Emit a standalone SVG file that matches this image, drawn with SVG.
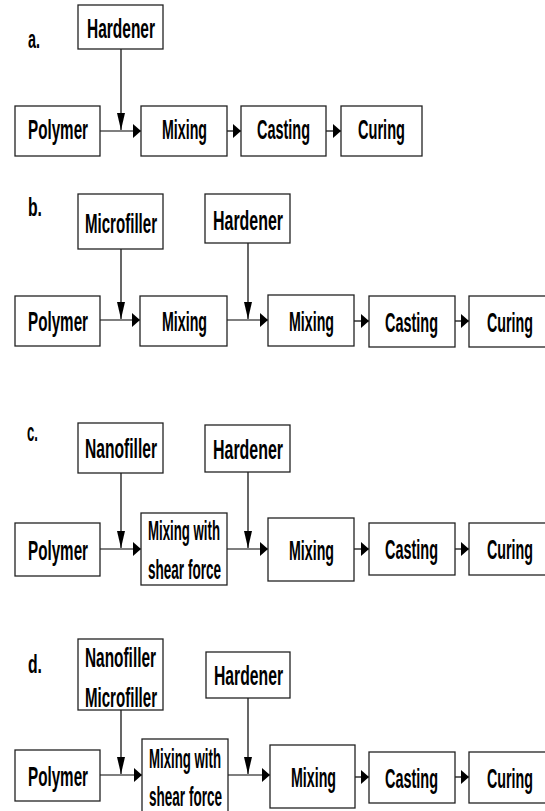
<svg xmlns="http://www.w3.org/2000/svg" width="545" height="811" viewBox="0 0 545 811">
<style>
.box{fill:#fff;stroke:#222;stroke-width:1.3}
.t{font-family:"Liberation Sans",Arial,sans-serif;font-size:28px;font-weight:bold;fill:#000}
.lbl{font-family:"Liberation Sans",Arial,sans-serif;font-size:26px;font-weight:bold;fill:#000}
.ln{fill:none;stroke:#000;stroke-width:1.2}
.h{marker-end:url(#ah)}
.v{marker-end:url(#av)}
</style>
<defs>
<marker id="ah" markerUnits="userSpaceOnUse" markerWidth="8" markerHeight="14" refX="8" refY="7" orient="auto"><path d="M0,0 L8,7 L0,14 z" fill="#000"/></marker>
<marker id="av" markerUnits="userSpaceOnUse" markerWidth="17" markerHeight="8" refX="17" refY="4" orient="auto"><path d="M0,0 L17,4 L0,8 z" fill="#000"/></marker>
</defs>
<rect width="545" height="811" fill="#fff"/>

<g id="labels">
<text class="lbl" x="28" y="48" textLength="12" lengthAdjust="spacingAndGlyphs">a.</text>
<text class="lbl" x="28" y="216" textLength="14" lengthAdjust="spacingAndGlyphs">b.</text>
<text class="lbl" x="27" y="441" textLength="11" lengthAdjust="spacingAndGlyphs">c.</text>
<text class="lbl" x="28" y="673" textLength="14" lengthAdjust="spacingAndGlyphs">d.</text>
</g>

<g id="connectors">
<!-- a -->
<line class="ln v" x1="121" y1="49" x2="121" y2="130"/>
<line class="ln h" x1="100" y1="131" x2="141" y2="131"/>
<line class="ln h" x1="227" y1="131" x2="241" y2="131"/>
<line class="ln h" x1="326" y1="131" x2="341" y2="131"/>
<!-- b -->
<line class="ln v" x1="121" y1="249" x2="121" y2="319"/>
<line class="ln h" x1="100" y1="320" x2="140" y2="320"/>
<line class="ln v" x1="248" y1="243" x2="248" y2="319"/>
<line class="ln h" x1="227" y1="320" x2="268" y2="320"/>
<line class="ln h" x1="354" y1="321" x2="369" y2="321"/>
<line class="ln h" x1="455" y1="321" x2="469" y2="321"/>
<!-- c -->
<line class="ln v" x1="121" y1="473" x2="121" y2="548"/>
<line class="ln h" x1="100" y1="549" x2="141" y2="549"/>
<line class="ln v" x1="248" y1="472" x2="248" y2="548"/>
<line class="ln h" x1="227" y1="549" x2="268" y2="549"/>
<line class="ln h" x1="354" y1="549" x2="369" y2="549"/>
<line class="ln h" x1="455" y1="549" x2="469" y2="549"/>
<!-- d -->
<line class="ln v" x1="121" y1="710" x2="121" y2="774"/>
<line class="ln h" x1="100" y1="775" x2="142" y2="775"/>
<line class="ln v" x1="248" y1="698" x2="248" y2="774"/>
<line class="ln h" x1="228" y1="775" x2="270" y2="775"/>
<line class="ln h" x1="355" y1="777" x2="369" y2="777"/>
<line class="ln h" x1="455" y1="777" x2="469" y2="777"/>
</g>

<!-- a -->
<g id="a-hardener"><rect class="box" x="78" y="5" width="85" height="44"/><text class="t" x="87" y="38" textLength="68" lengthAdjust="spacingAndGlyphs">Hardener</text></g>
<g id="a-polymer"><rect class="box" x="15" y="106" width="85" height="50"/><text class="t" x="28" y="139" textLength="60" lengthAdjust="spacingAndGlyphs">Polymer</text></g>
<g id="a-mixing"><rect class="box" x="141" y="106" width="86" height="50"/><text class="t" x="162" y="139" textLength="45" lengthAdjust="spacingAndGlyphs">Mixing</text></g>
<g id="a-casting"><rect class="box" x="241" y="106" width="85" height="50"/><text class="t" x="257" y="139" textLength="53" lengthAdjust="spacingAndGlyphs">Casting</text></g>
<g id="a-curing"><rect class="box" x="341" y="106" width="81" height="50"/><text class="t" x="358" y="139" textLength="47" lengthAdjust="spacingAndGlyphs">Curing</text></g>

<!-- b -->
<g id="b-microfiller"><rect class="box" x="78" y="194" width="85" height="55"/><text class="t" x="85" y="233" textLength="72" lengthAdjust="spacingAndGlyphs">Microfiller</text></g>
<g id="b-hardener"><rect class="box" x="205" y="194" width="85" height="49"/><text class="t" x="213" y="230" textLength="70" lengthAdjust="spacingAndGlyphs">Hardener</text></g>
<g id="b-polymer"><rect class="box" x="15" y="296" width="85" height="50"/><text class="t" x="28" y="331" textLength="60" lengthAdjust="spacingAndGlyphs">Polymer</text></g>
<g id="b-mixing1"><rect class="box" x="140" y="296" width="87" height="50"/><text class="t" x="162" y="331" textLength="45" lengthAdjust="spacingAndGlyphs">Mixing</text></g>
<g id="b-mixing2"><rect class="box" x="268" y="295" width="86" height="51"/><text class="t" x="289" y="331" textLength="45" lengthAdjust="spacingAndGlyphs">Mixing</text></g>
<g id="b-casting"><rect class="box" x="369" y="296" width="86" height="51"/><text class="t" x="385" y="332" textLength="53" lengthAdjust="spacingAndGlyphs">Casting</text></g>
<g id="b-curing"><rect class="box" x="469" y="296" width="77" height="51"/><text class="t" x="487" y="332" textLength="46" lengthAdjust="spacingAndGlyphs">Curing</text></g>

<!-- c -->
<g id="c-nanofiller"><rect class="box" x="78" y="423" width="85" height="50"/><text class="t" x="85" y="458" textLength="72" lengthAdjust="spacingAndGlyphs">Nanofiller</text></g>
<g id="c-hardener"><rect class="box" x="205" y="425" width="85" height="47"/><text class="t" x="213" y="459" textLength="70" lengthAdjust="spacingAndGlyphs">Hardener</text></g>
<g id="c-polymer"><rect class="box" x="15" y="523" width="85" height="53"/><text class="t" x="28" y="560" textLength="60" lengthAdjust="spacingAndGlyphs">Polymer</text></g>
<g id="c-shear"><rect class="box" x="141" y="513" width="86" height="72"/><text class="t" x="148" y="540" textLength="72" lengthAdjust="spacingAndGlyphs">Mixing with</text><text class="t" x="148" y="579" textLength="73" lengthAdjust="spacingAndGlyphs">shear force</text></g>
<g id="c-mixing"><rect class="box" x="268" y="518" width="86" height="63"/><text class="t" x="289" y="560" textLength="45" lengthAdjust="spacingAndGlyphs">Mixing</text></g>
<g id="c-casting"><rect class="box" x="369" y="523" width="86" height="52"/><text class="t" x="385" y="559" textLength="53" lengthAdjust="spacingAndGlyphs">Casting</text></g>
<g id="c-curing"><rect class="box" x="469" y="523" width="77" height="52"/><text class="t" x="487" y="559" textLength="46" lengthAdjust="spacingAndGlyphs">Curing</text></g>

<!-- d -->
<g id="d-fillers"><rect class="box" x="78" y="639" width="85" height="71"/><text class="t" x="85" y="667" textLength="71" lengthAdjust="spacingAndGlyphs">Nanofiller</text><text class="t" x="85" y="707" textLength="72" lengthAdjust="spacingAndGlyphs">Microfiller</text></g>
<g id="d-hardener"><rect class="box" x="206" y="652" width="84" height="46"/><text class="t" x="214" y="685" textLength="69" lengthAdjust="spacingAndGlyphs">Hardener</text></g>
<g id="d-polymer"><rect class="box" x="15" y="750" width="85" height="51"/><text class="t" x="28" y="786" textLength="60" lengthAdjust="spacingAndGlyphs">Polymer</text></g>
<g id="d-shear"><rect class="box" x="142" y="739" width="86" height="80"/><text class="t" x="149" y="768" textLength="72" lengthAdjust="spacingAndGlyphs">Mixing with</text><text class="t" x="149" y="806" textLength="73" lengthAdjust="spacingAndGlyphs">shear force</text></g>
<g id="d-mixing"><rect class="box" x="270" y="745" width="85" height="63"/><text class="t" x="291" y="787" textLength="45" lengthAdjust="spacingAndGlyphs">Mixing</text></g>
<g id="d-casting"><rect class="box" x="369" y="752" width="86" height="51"/><text class="t" x="385" y="788" textLength="53" lengthAdjust="spacingAndGlyphs">Casting</text></g>
<g id="d-curing"><rect class="box" x="469" y="752" width="77" height="51"/><text class="t" x="487" y="788" textLength="46" lengthAdjust="spacingAndGlyphs">Curing</text></g>
</svg>
